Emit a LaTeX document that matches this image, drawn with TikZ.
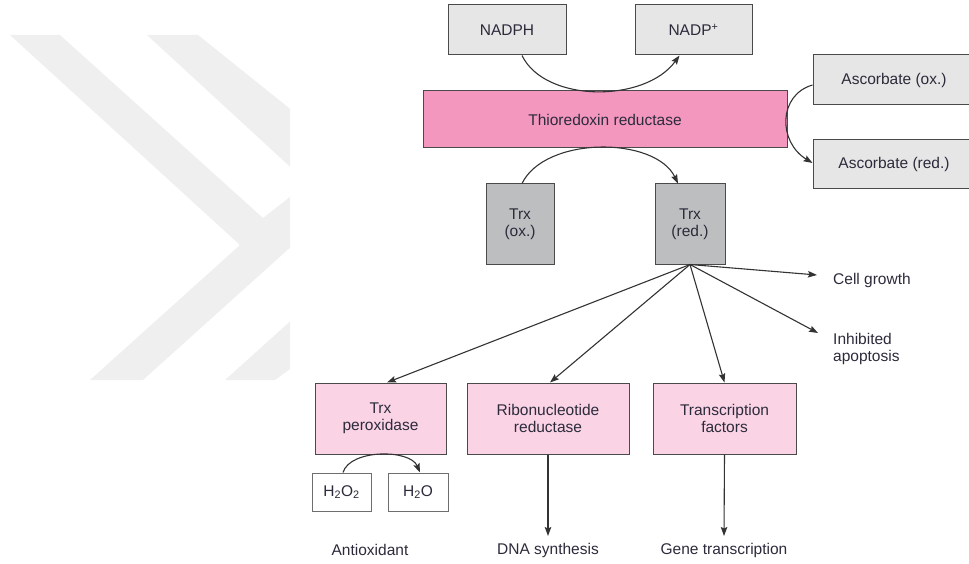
\documentclass[tikz,border=0pt]{standalone}
\usepackage{fontspec}
\setmainfont{Liberation Sans}
\usetikzlibrary{arrows.meta,calc}
\definecolor{wm}{HTML}{EFEFEF}
\definecolor{lgray}{HTML}{E6E6E6}
\definecolor{dgray}{HTML}{BDBEC0}
\definecolor{pinkA}{HTML}{F397BF}
\definecolor{pinkB}{HTML}{FAD3E5}
\definecolor{edge}{HTML}{4A4A4A}
\definecolor{txt}{HTML}{2B2B3B}
\definecolor{ln}{HTML}{333333}
\tikzset{
  boxbase/.style={rectangle, draw=edge, line width=1pt, inner sep=0pt, align=center, text=txt},
  graybox/.style={boxbase, fill=lgray},
  trxbox/.style={boxbase, fill=dgray},
  enzbox/.style={boxbase, fill=pinkA},
  pinkbox/.style={boxbase, fill=pinkB},
  whitebox/.style={boxbase, fill=white, draw=edge!80},
  lbl/.style={inner sep=0pt, text=txt, align=left},
  arr/.style={draw=ln, line width=1.1pt, -{Stealth[length=9pt,width=6.5pt,inset=1.5pt]}},
}
\begin{document}
\begin{tikzpicture}[x=1pt,y=-1pt,font=\fontsize{15.5}{17}\selectfont]
\useasboundingbox (0,0) rectangle (969,564);
% watermark
\begin{scope}
\clip (0,0) rectangle (290,564);
\fill[wm] (10,35)--(60,35)--(293,245)--(143,380)--(90,380)--(240,245)--cycle;
\fill[wm] (147,35)--(198,35)--(460,245)--(275,380)--(225,380)--(375,245)--cycle;
\fill[wm] (263,218)--(290,197)--(290,245)--cycle;
\end{scope}
% boxes
\node[graybox, minimum width=118pt, minimum height=50pt] (nadph) at (507,30) {NADPH};
\node[graybox, minimum width=117pt, minimum height=50pt] (nadp) at (693.5,30) {NADP\textsuperscript{+}};
\node[enzbox, minimum width=364pt, minimum height=57pt] (tr) at (605,119.5) {Thioredoxin reductase};
\node[graybox, minimum width=162pt, minimum height=50pt] (ascox) at (894,80) {Ascorbate (ox.)};
\node[graybox, minimum width=162pt, minimum height=49pt] (ascred) at (894,164.5) {Ascorbate (red.)};
\node[trxbox, minimum width=68pt, minimum height=80pt] (trxox) at (520,224) {Trx\\(ox.)};
\node[trxbox, minimum width=70pt, minimum height=80pt] (trxred) at (690,224) {Trx\\(red.)};
\node[pinkbox, minimum width=131pt, minimum height=71pt] (trxper) at (380.5,418.5) {Trx\\peroxidase};
\node[pinkbox, minimum width=162pt, minimum height=71pt] (rnr) at (548,418.5) {Ribonucleotide\\reductase};
\node[pinkbox, minimum width=143pt, minimum height=71pt] (tf) at (724.5,418.5) {Transcription\\factors};
\node[whitebox, minimum width=59pt, minimum height=38pt] (hoo) at (341.5,492) {H\textsubscript{2}O\textsubscript{2}};
\node[whitebox, minimum width=60pt, minimum height=38pt] (ho) at (418,492) {H\textsubscript{2}O};
% labels
\node[lbl, anchor=west] (cg) at (833,280) {Cell growth};
\node[lbl, anchor=west] (ap) at (833,349) {Inhibited\\apoptosis};
\node[lbl] (antiox) at (370,550) {Antioxidant};
\node[lbl] (dna) at (548,550) {DNA synthesis};
\node[lbl] (gene) at (724,550) {Gene transcription};
% free ends
\coordinate (cgtip) at (817,275);
\coordinate (aptip) at (818,333);
\coordinate (dnatip) at (548,536);
\coordinate (genetip) at (724,536);
% connectors
\draw[arr] ($(nadph.south)+(15,0)$) .. controls (545,103) and (645,103) .. ($(nadp.south)+(-14,0)$);
\draw[arr] ($(trxox.north)+(2,0)$) .. controls (545,136) and (655,136) .. ($(trxred.north)+(-12,0)$);
\draw[arr] ($(ascox.west)+(0,5)$) .. controls (778,95) and (778,142) .. ($(ascred.west)+(0,-1.5)$);
\draw[arr] (trxred.south) -- ($(trxper.north)+(6.5,0)$);
\draw[arr] (trxred.south) -- ($(rnr.north)+(2,0)$);
\draw[arr] (trxred.south) -- (tf.north);
\draw[arr] (trxred.south) -- (cgtip);
\draw[arr] (trxred.south) -- (aptip);
\draw[arr] ($(hoo.north)+(1.5,0)$) .. controls (350,449) and (410,449) .. ($(ho.north)+(2,0)$);
\draw[arr] (rnr.south) -- (dnatip);
\draw[arr] (tf.south) -- (genetip);
\end{tikzpicture}
\end{document}
